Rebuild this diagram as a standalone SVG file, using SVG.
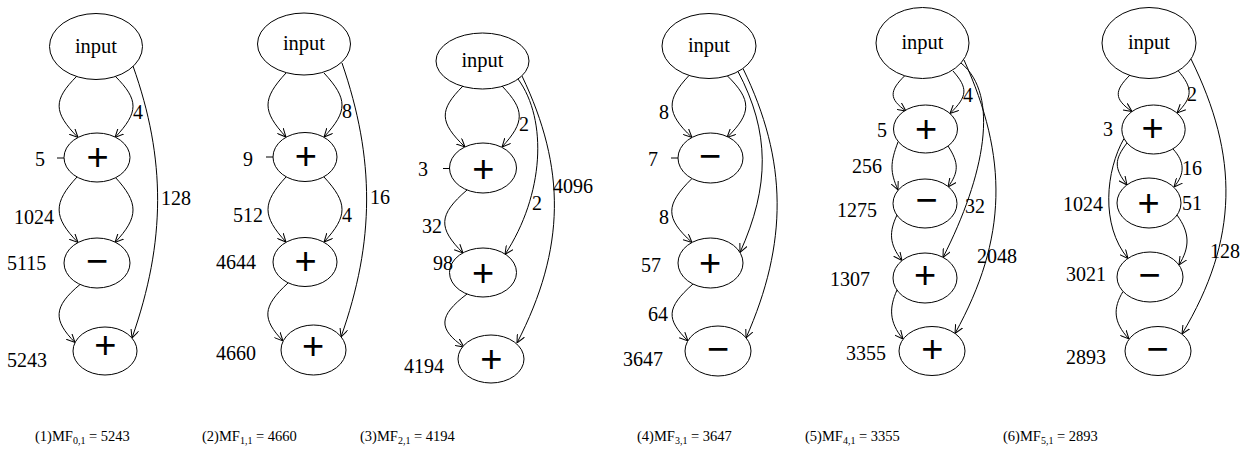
<svg xmlns="http://www.w3.org/2000/svg" width="1251" height="450" viewBox="0 0 1251 450" font-family="'Liberation Serif', 'Times New Roman', serif">
  <defs>
    <marker id="vee" viewBox="0 0 10 10" refX="10" refY="5" markerWidth="8.5" markerHeight="8.5" markerUnits="userSpaceOnUse" orient="auto">
      <path d="M0,0.3 L10,5 L0,9.7" fill="none" stroke="#000" stroke-width="1.2"/>
    </marker>
    <style>
      .node { fill: #fff; stroke: #000; stroke-width: 1; }
      .edge { fill: none; stroke: #000; stroke-width: 1; marker-end: url(#vee); }
      .tick { stroke: #000; stroke-width: 1; }
      .lbl { font-size: 20px; fill: #000; }
      .in { font-size: 20.5px; fill: #000; text-anchor: middle; }
      .op { font-size: 38px; fill: #000; text-anchor: middle; }
      .cap { font-size: 14.5px; fill: #000; }
      .sub { font-size: 10px; }
    </style>
  </defs>
  <rect width="1251" height="450" fill="#fff"/>

  <!-- MF 0,1 -->
  <g id="mf0">
    <g id="connectors-mf0">
      <path class="edge" d="M77,76 C53,100 53,112 78,137.5"/>
      <path class="edge" d="M115,76 C139,100 139,112 115,137.5"/>
      <path class="edge" d="M133,66 C166,159 166,241 132,338"/>
      <path class="edge" d="M77,177 C53,203 53,217 78,242.5"/>
      <path class="edge" d="M115,177 C139,203 139,217 115,242.5"/>
      <path class="edge" d="M80,284.5 C53,307 53,320 75,342.5"/>
      <text class="lbl" font-family="Liberation Serif, serif" x="133" y="119">4</text>
      <text class="lbl" font-family="Liberation Serif, serif" x="161" y="205">128</text>
      <text class="lbl" font-family="Liberation Serif, serif" x="14" y="224">1024</text>
    </g>
    <g id="mf0-input"><ellipse class="node" cx="96" cy="46.5" rx="46.5" ry="33"/><text class="in" font-family="Liberation Serif, serif" x="96" y="52.5">input</text></g>
    <g id="mf0-n1"><ellipse class="node" cx="97" cy="157.5" rx="33" ry="24.5"/><text class="op" font-family="Liberation Sans, sans-serif" x="97.5" y="170.3">+</text><line class="tick" x1="57" y1="158" x2="64" y2="158"/><text class="lbl" font-family="Liberation Serif, serif" x="35" y="166">5</text></g>
    <g id="mf0-n2"><ellipse class="node" cx="97" cy="263" rx="33" ry="25"/><text class="op" font-family="Liberation Sans, sans-serif" x="97" y="274.3">−</text><text class="lbl" font-family="Liberation Serif, serif" x="7" y="270">5115</text></g>
    <g id="mf0-n3"><ellipse class="node" cx="105" cy="351" rx="32" ry="24"/><text class="op" font-family="Liberation Sans, sans-serif" x="105.3" y="358.3">+</text><text class="lbl" font-family="Liberation Serif, serif" x="7" y="367">5243</text></g>
    <text class="cap" font-family="Liberation Serif, serif" x="35" y="441">(1)MF<tspan class="sub" dy="3">0,1</tspan><tspan dy="-3"> = 5243</tspan></text>
  </g>

  <!-- MF 1,1 -->
  <g id="mf1">
    <g id="connectors-mf1">
      <path class="edge" d="M286,73 C262,99 262,111 286,137"/>
      <path class="edge" d="M324,73 C348,99 348,111 324,137"/>
      <path class="edge" d="M342,63 C375,159 375,241 341,337"/>
      <path class="edge" d="M286,177 C262,203 262,216 286,242"/>
      <path class="edge" d="M324,177 C348,203 348,216 324,242"/>
      <path class="edge" d="M288,283 C262,307 262,319 283,341"/>
      <text class="lbl" font-family="Liberation Serif, serif" x="342" y="118">8</text>
      <text class="lbl" font-family="Liberation Serif, serif" x="370" y="204">16</text>
      <text class="lbl" font-family="Liberation Serif, serif" x="233" y="222">512</text>
      <text class="lbl" font-family="Liberation Serif, serif" x="342" y="222">4</text>
    </g>
    <g id="mf1-input"><ellipse class="node" cx="304" cy="44" rx="46.5" ry="31"/><text class="in" font-family="Liberation Serif, serif" x="304" y="50">input</text></g>
    <g id="mf1-n1"><ellipse class="node" cx="305" cy="157" rx="32" ry="24.5"/><text class="op" font-family="Liberation Sans, sans-serif" x="305.8" y="169.3">+</text><line class="tick" x1="266" y1="157" x2="273" y2="157"/><text class="lbl" font-family="Liberation Serif, serif" x="243" y="166">9</text></g>
    <g id="mf1-n2"><ellipse class="node" cx="305" cy="262" rx="32" ry="24.5"/><text class="op" font-family="Liberation Sans, sans-serif" x="305.5" y="274.3">+</text><text class="lbl" font-family="Liberation Serif, serif" x="216" y="269">4644</text></g>
    <g id="mf1-n3"><ellipse class="node" cx="313.5" cy="350" rx="32.5" ry="25"/><text class="op" font-family="Liberation Sans, sans-serif" x="313" y="359.3">+</text><text class="lbl" font-family="Liberation Serif, serif" x="216" y="360">4660</text></g>
    <text class="cap" font-family="Liberation Serif, serif" x="202" y="441">(2)MF<tspan class="sub" dy="3">1,1</tspan><tspan dy="-3"> = 4660</tspan></text>
  </g>

  <!-- MF 2,1 -->
  <g id="mf2">
    <g id="connectors-mf2">
      <path class="edge" d="M463,86 C439,110 439,122 465,147"/>
      <path class="edge" d="M502,86 C525,110 525,122 502,147"/>
      <path class="edge" d="M518,79 C548,120 544,195 505,254.5"/>
      <path class="edge" d="M522,76 C566,168 566,248 517,343"/>
      <path class="edge" d="M467,190 C438,215 438,228 463,253"/>
      <path class="edge" d="M467,294 C438,316 438,329 464,347"/>
      <text class="lbl" font-family="Liberation Serif, serif" x="519" y="131">2</text>
      <text class="lbl" font-family="Liberation Serif, serif" x="532" y="210">2</text>
      <text class="lbl" font-family="Liberation Serif, serif" x="553" y="193">4096</text>
      <text class="lbl" font-family="Liberation Serif, serif" x="422" y="233">32</text>
    </g>
    <g id="mf2-input"><ellipse class="node" cx="482.5" cy="61" rx="46.5" ry="28"/><text class="in" font-family="Liberation Serif, serif" x="482.5" y="67">input</text></g>
    <g id="mf2-n1"><ellipse class="node" cx="483" cy="168" rx="33.5" ry="25"/><text class="op" font-family="Liberation Sans, sans-serif" x="483.3" y="181.6">+</text><line class="tick" x1="443" y1="168.5" x2="449.5" y2="168.5"/><text class="lbl" font-family="Liberation Serif, serif" x="418" y="176">3</text></g>
    <g id="mf2-n2"><ellipse class="node" cx="483" cy="272.5" rx="33.5" ry="24.5"/><text class="op" font-family="Liberation Sans, sans-serif" x="483" y="285.8">+</text><text class="lbl" font-family="Liberation Serif, serif" x="433" y="270">98</text></g>
    <g id="mf2-n3"><ellipse class="node" cx="491" cy="359" rx="33" ry="24"/><text class="op" font-family="Liberation Sans, sans-serif" x="491.3" y="372.3">+</text><text class="lbl" font-family="Liberation Serif, serif" x="404" y="373">4194</text></g>
    <text class="cap" font-family="Liberation Serif, serif" x="360" y="441">(3)MF<tspan class="sub" dy="3">2,1</tspan><tspan dy="-3"> = 4194</tspan></text>
  </g>

  <!-- MF 3,1 -->
  <g id="mf3">
    <g id="connectors-mf3">
      <path class="edge" d="M689,75.5 C666,100 666,113 692,137.5"/>
      <path class="edge" d="M727,75.5 C752,100 752,113 727,137.5"/>
      <path class="edge" d="M738,71.5 C770,132 770,186 740,252.5"/>
      <path class="edge" d="M743,68.5 C788,161 788,243 746,338"/>
      <path class="edge" d="M692,178.5 C665,205 665,218 692,242.5"/>
      <path class="edge" d="M693,284 C666,308 666,319 688,341"/>
      <text class="lbl" font-family="Liberation Serif, serif" x="659" y="119">8</text>
      <text class="lbl" font-family="Liberation Serif, serif" x="659" y="224">8</text>
      <text class="lbl" font-family="Liberation Serif, serif" x="648" y="321">64</text>
    </g>
    <g id="mf3-input"><ellipse class="node" cx="709" cy="46" rx="47" ry="32.5"/><text class="in" font-family="Liberation Serif, serif" x="709" y="52">input</text></g>
    <g id="mf3-n1"><ellipse class="node" cx="710.5" cy="158" rx="32.5" ry="25"/><text class="op" font-family="Liberation Sans, sans-serif" x="710" y="169.3">−</text><line class="tick" x1="671" y1="158" x2="678" y2="158"/><text class="lbl" font-family="Liberation Serif, serif" x="648" y="166">7</text></g>
    <g id="mf3-n2"><ellipse class="node" cx="710.5" cy="263" rx="32.5" ry="25"/><text class="op" font-family="Liberation Sans, sans-serif" x="710" y="275.8">+</text><text class="lbl" font-family="Liberation Serif, serif" x="641" y="272">57</text></g>
    <g id="mf3-n3"><ellipse class="node" cx="718" cy="351" rx="33" ry="25"/><text class="op" font-family="Liberation Sans, sans-serif" x="718" y="362.3">−</text><text class="lbl" font-family="Liberation Serif, serif" x="623" y="366">3647</text></g>
    <text class="cap" font-family="Liberation Serif, serif" x="637" y="441">(4)MF<tspan class="sub" dy="3">3,1</tspan><tspan dy="-3"> = 3647</tspan></text>
  </g>

  <!-- MF 4,1 -->
  <g id="mf4">
    <g id="connectors-mf4">
      <path class="edge" d="M905,75.5 C889,91 889,99 906,111"/>
      <path class="edge" d="M953,71 C968,88 968,96 950,113.5"/>
      <path class="edge" d="M961,63 C1000,95 985,175 943,257.5"/>
      <path class="edge" d="M964,60 C1008,157 1008,238 955,333.5"/>
      <path class="edge" d="M898,142 C890,163 890,172 898,190"/>
      <path class="edge" d="M948,146 C959,163 959,172 948,187"/>
      <path class="edge" d="M897,215 C889,232 889,244 902,260.5"/>
      <path class="edge" d="M897,290 C889,308 889,322 903,339"/>
      <text class="lbl" font-family="Liberation Serif, serif" x="963" y="102">4</text>
      <text class="lbl" font-family="Liberation Serif, serif" x="965" y="213">32</text>
      <text class="lbl" font-family="Liberation Serif, serif" x="977" y="263">2048</text>
      <text class="lbl" font-family="Liberation Serif, serif" x="852" y="173">256</text>
    </g>
    <g id="mf4-input"><ellipse class="node" cx="922.5" cy="43" rx="46.5" ry="35.5"/><text class="in" font-family="Liberation Serif, serif" x="922.5" y="49">input</text></g>
    <g id="mf4-n1"><ellipse class="node" cx="925.5" cy="129" rx="32" ry="24"/><text class="op" font-family="Liberation Sans, sans-serif" x="926" y="141.6">+</text><text class="lbl" font-family="Liberation Serif, serif" x="877" y="137">5</text></g>
    <g id="mf4-n2"><ellipse class="node" cx="925" cy="203.5" rx="32" ry="24.5"/><text class="op" font-family="Liberation Sans, sans-serif" x="926.7" y="213.3">−</text><text class="lbl" font-family="Liberation Serif, serif" x="837" y="217">1275</text></g>
    <g id="mf4-n3"><ellipse class="node" cx="925" cy="278" rx="32" ry="25"/><text class="op" font-family="Liberation Sans, sans-serif" x="925" y="288.3">+</text><text class="lbl" font-family="Liberation Serif, serif" x="830" y="286">1307</text></g>
    <g id="mf4-n4"><ellipse class="node" cx="932" cy="351" rx="33" ry="24.5"/><text class="op" font-family="Liberation Sans, sans-serif" x="932.3" y="362.3">+</text><text class="lbl" font-family="Liberation Serif, serif" x="846" y="360">3355</text></g>
    <text class="cap" font-family="Liberation Serif, serif" x="805" y="441">(5)MF<tspan class="sub" dy="3">4,1</tspan><tspan dy="-3"> = 3355</tspan></text>
  </g>

  <!-- MF 5,1 -->
  <g id="mf5">
    <g id="connectors-mf5">
      <path class="edge" d="M1130,75 C1114,91 1114,99 1132,111.5"/>
      <path class="edge" d="M1178,70.5 C1193,88 1193,97 1177,113"/>
      <path class="edge" d="M1191,59 C1239,156 1239,239 1182,334"/>
      <path class="edge" d="M1127,143 C1114,160 1114,168 1127,185"/>
      <path class="edge" d="M1173,149 C1185,162 1185,174 1174,187"/>
      <path class="edge" d="M1124,138.5 C1106,170 1100,225 1128,258.5"/>
      <path class="edge" d="M1177,215 C1190,233 1190,247 1179,265"/>
      <path class="edge" d="M1123,291.5 C1113,308 1113,322 1129,339"/>
      <text class="lbl" font-family="Liberation Serif, serif" x="1187" y="101">2</text>
      <text class="lbl" font-family="Liberation Serif, serif" x="1210" y="258">128</text>
      <text class="lbl" font-family="Liberation Serif, serif" x="1182" y="175">16</text>
      <text class="lbl" font-family="Liberation Serif, serif" x="1063" y="211">1024</text>
    </g>
    <g id="mf5-input"><ellipse class="node" cx="1149" cy="43" rx="47" ry="35.5"/><text class="in" font-family="Liberation Serif, serif" x="1149" y="49">input</text></g>
    <g id="mf5-n1"><ellipse class="node" cx="1153.5" cy="129.5" rx="31.7" ry="24.5"/><text class="op" font-family="Liberation Sans, sans-serif" x="1152.5" y="141.3">+</text><text class="lbl" font-family="Liberation Serif, serif" x="1103" y="136">3</text></g>
    <g id="mf5-n2"><ellipse class="node" cx="1149" cy="203" rx="32" ry="25"/><text class="op" font-family="Liberation Sans, sans-serif" x="1148.5" y="215.8">+</text><text class="lbl" font-family="Liberation Serif, serif" x="1182" y="210">51</text></g>
    <g id="mf5-n3"><ellipse class="node" cx="1150" cy="277" rx="33" ry="25"/><text class="op" font-family="Liberation Sans, sans-serif" x="1149.5" y="288.3">−</text><text class="lbl" font-family="Liberation Serif, serif" x="1066" y="281">3021</text></g>
    <g id="mf5-n4"><ellipse class="node" cx="1158" cy="351" rx="33" ry="24.5"/><text class="op" font-family="Liberation Sans, sans-serif" x="1157.5" y="361.6">−</text><text class="lbl" font-family="Liberation Serif, serif" x="1066" y="364">2893</text></g>
    <text class="cap" font-family="Liberation Serif, serif" x="1003" y="441">(6)MF<tspan class="sub" dy="3">5,1</tspan><tspan dy="-3"> = 2893</tspan></text>
  </g>
</svg>
